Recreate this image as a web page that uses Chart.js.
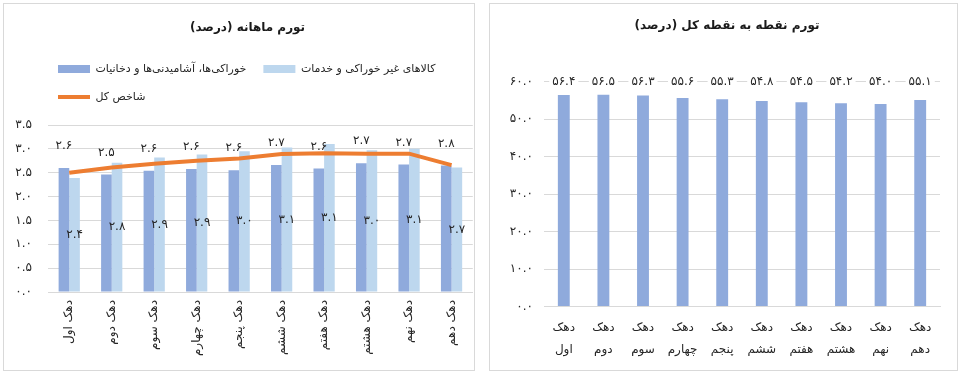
<!DOCTYPE html>
<html>
<head>
<meta charset="utf-8">
<script src="https://cdn.jsdelivr.net/npm/chart.js@4.4.1/dist/chart.umd.min.js"></script>
<style>
body { margin: 0; background: #fff; width: 961px; height: 375px; position: relative; overflow: hidden; }
.panel { position: absolute; top: 3px; height: 366px; border: 1px solid #d9d9d9; background: #fff; }
#p1 { left: 3px; width: 470px; }
#p2 { left: 489px; width: 467px; }
canvas { display: block; }
</style>
</head>
<body>
<div class="panel" id="p1"><canvas id="monthly" width="470" height="366" dir="rtl"></canvas></div>
<div class="panel" id="p2"><canvas id="pointToPoint" width="467" height="366" dir="rtl"></canvas></div>
<script>
// categories
const deciles = ['دهک اول', 'دهک دوم', 'دهک سوم', 'دهک چهارم', 'دهک پنجم', 'دهک ششم', 'دهک هفتم', 'دهک هشتم', 'دهک نهم', 'دهک دهم'];
const decilesTwoLine = [['دهک', 'اول'], ['دهک', 'دوم'], ['دهک', 'سوم'], ['دهک', 'چهارم'], ['دهک', 'پنجم'], ['دهک', 'ششم'], ['دهک', 'هفتم'], ['دهک', 'هشتم'], ['دهک', 'نهم'], ['دهک', 'دهم']];

// monthly inflation (bar heights, printed labels kept as shown)
const foodValues = [2.60, 2.46, 2.54, 2.58, 2.55, 2.66, 2.59, 2.70, 2.67, 2.65];
const foodLabels = ['2.6', '2.5', '2.6', '2.6', '2.6', '2.7', '2.6', '2.7', '2.7', '2.8'];
const nonFoodValues = [2.39, 2.71, 2.82, 2.88, 2.95, 3.03, 3.10, 2.97, 3.00, 2.61];
const nonFoodLabels = ['2.4', '2.8', '2.9', '2.9', '3.0', '3.1', '3.1', '3.0', '3.1', '2.7'];
const totalValues = [2.50, 2.61, 2.69, 2.75, 2.80, 2.89, 2.91, 2.90, 2.90, 2.66];

// point to point inflation
const pointValues = [56.4, 56.5, 56.3, 55.6, 55.3, 54.8, 54.5, 54.2, 54.0, 55.1];

const FONT = "'DejaVu Sans', sans-serif";
Chart.defaults.font.family = FONT;
Chart.defaults.color = '#404040';

const faDigits = s => String(s).replace(/[0-9]/g, d => '۰۱۲۳۴۵۶۷۸۹'[d]);

const barLabels = {
    id: 'barLabels',
    afterDatasetsDraw: function (chart) {
        const ctx = chart.ctx;
        ctx.save();
        ctx.font = '12px ' + FONT;
        ctx.fillStyle = '#262626';
        ctx.textAlign = 'center';
        ctx.textBaseline = 'middle';
        chart.getDatasetMeta(0).data.forEach((bar, i) => {
            ctx.fillText(faDigits(foodLabels[i]), bar.x, bar.y - 22);
        });
        chart.getDatasetMeta(1).data.forEach((bar, i) => {
            ctx.fillText(faDigits(nonFoodLabels[i]), bar.x, (bar.y + bar.base) / 2);
        });
        ctx.restore();
    }
};

// move the title a bit right, and keep the wrapped legend rows left aligned like excel does
const shiftBoxes = {
    id: 'shiftBoxes',
    afterLayout: function (chart, args, opts) {
        if (opts.title) {
            chart.titleBlock.left += opts.title;
            chart.titleBlock.right += opts.title;
        }
        if (opts.legendLeft !== undefined) {
            const w = chart.legend.right - chart.legend.left;
            chart.legend.left = opts.legendLeft;
            chart.legend.right = opts.legendLeft + w;
        }
    }
};

const topLabels = {
    id: 'topLabels',
    afterDatasetsDraw: function (chart) {
        const ctx = chart.ctx;
        const yScale = chart.scales.y;
        const y = yScale.getPixelForValue(yScale.max);
        ctx.save();
        ctx.font = '12px ' + FONT;
        ctx.textAlign = 'center';
        ctx.textBaseline = 'middle';
        chart.getDatasetMeta(0).data.forEach((bar, i) => {
            const text = faDigits(pointValues[i].toFixed(1));
            const w = ctx.measureText(text).width;
            ctx.fillStyle = '#fff';
            ctx.fillRect(bar.x - w / 2 - 3, y - 7, w + 6, 14);
            ctx.fillStyle = '#262626';
            ctx.fillText(text, bar.x, y);
        });
        ctx.restore();
    }
};

new Chart(document.getElementById('monthly'), {
    type: 'bar',
    data: {
        labels: deciles,
        datasets: [{
            label: 'خوراکی‌ها، آشامیدنی‌ها و دخانیات',
            data: foodValues,
            backgroundColor: '#8faadc',
            categoryPercentage: 0.5,
            barPercentage: 1,
            pointStyle: 'rect',
            order: 1
        }, {
            label: 'کالاهای غیر خوراکی و خدمات',
            data: nonFoodValues,
            backgroundColor: '#bdd7ee',
            categoryPercentage: 0.5,
            barPercentage: 1,
            pointStyle: 'rect',
            order: 1
        }, {
            type: 'line',
            label: 'شاخص کل',
            data: totalValues,
            borderColor: '#ed7d31',
            backgroundColor: '#ed7d31',
            borderWidth: 4,
            pointRadius: 0,
            pointBorderWidth: 4,
            pointStyle: 'line',
            tension: 0,
            order: 0
        }]
    },
    options: {
        responsive: false,
        animation: false,
        layout: { padding: { right: 1 } },
        plugins: {
            title: {
                display: true,
                text: 'تورم ماهانه (درصد)',
                color: '#1a1a1a',
                font: { size: 12, weight: 'bold', lineHeight: 1.2 },
                padding: { top: 17, bottom: 11.1 }
            },
            subtitle: {
                display: true,
                text: '',
                weight: 500,
                font: { size: 12, lineHeight: 1 },
                padding: { top: 0, bottom: 0.5 }
            },
            legend: {
                position: 'top',
                align: 'start',
                labels: {
                    usePointStyle: true,
                    pointStyleWidth: 32,
                    boxWidth: 32,
                    boxHeight: 8,
                    padding: 17,
                    color: '#262626',
                    font: { size: 11 },
                    sort: (a, b) => a.datasetIndex - b.datasetIndex
                }
            },
            shiftBoxes: { title: 9, legendLeft: 37 },
            tooltip: { enabled: false }
        },
        scales: {
            x: {
                grid: { display: false, drawTicks: false },
                border: { color: '#d9d9d9' },
                ticks: { minRotation: 90, maxRotation: 90, autoSkip: false, padding: 8, color: '#262626', font: { size: 12 } },
                afterFit: function (scale) { scale.height = 78; }
            },
            y: {
                min: 0,
                max: 3.5,
                grid: { color: '#d9d9d9', drawTicks: false },
                border: { display: false },
                ticks: {
                    stepSize: 0.5,
                    padding: 16,
                    color: '#262626',
                    font: { size: 12 },
                    callback: v => faDigits(Number(v).toFixed(1))
                },
                afterFit: function (scale) { scale.width = 44; }
            }
        }
    },
    plugins: [barLabels, shiftBoxes]
});

new Chart(document.getElementById('pointToPoint'), {
    type: 'bar',
    data: {
        labels: decilesTwoLine,
        datasets: [{
            label: 'تورم نقطه به نقطه',
            data: pointValues,
            backgroundColor: '#8faadc',
            categoryPercentage: 1,
            barPercentage: 0.3
        }]
    },
    options: {
        responsive: false,
        animation: false,
        layout: { padding: { right: 17 } },
        plugins: {
            title: {
                display: true,
                text: 'تورم نقطه به نقطه کل (درصد)',
                color: '#1a1a1a',
                font: { size: 12, weight: 'bold', lineHeight: 1.2 },
                padding: { top: 15, bottom: 48.1 }
            },
            legend: { display: false },
            shiftBoxes: { title: 12 },
            tooltip: { enabled: false }
        },
        scales: {
            x: {
                grid: { display: false, drawTicks: false },
                border: { color: '#d9d9d9' },
                ticks: { maxRotation: 0, autoSkip: false, padding: 10.5, color: '#262626', font: { size: 12, lineHeight: 1.83 } },
                afterFit: function (scale) { scale.height = 63.5; }
            },
            y: {
                min: 0,
                max: 60,
                grid: { color: '#d9d9d9', drawTicks: false },
                border: { display: false },
                ticks: {
                    stepSize: 10,
                    padding: 11,
                    color: '#262626',
                    font: { size: 12 },
                    callback: v => faDigits(Number(v).toFixed(1))
                },
                afterFit: function (scale) { scale.width = 54; }
            }
        }
    },
    plugins: [topLabels, shiftBoxes]
});
</script>
</body>
</html>
